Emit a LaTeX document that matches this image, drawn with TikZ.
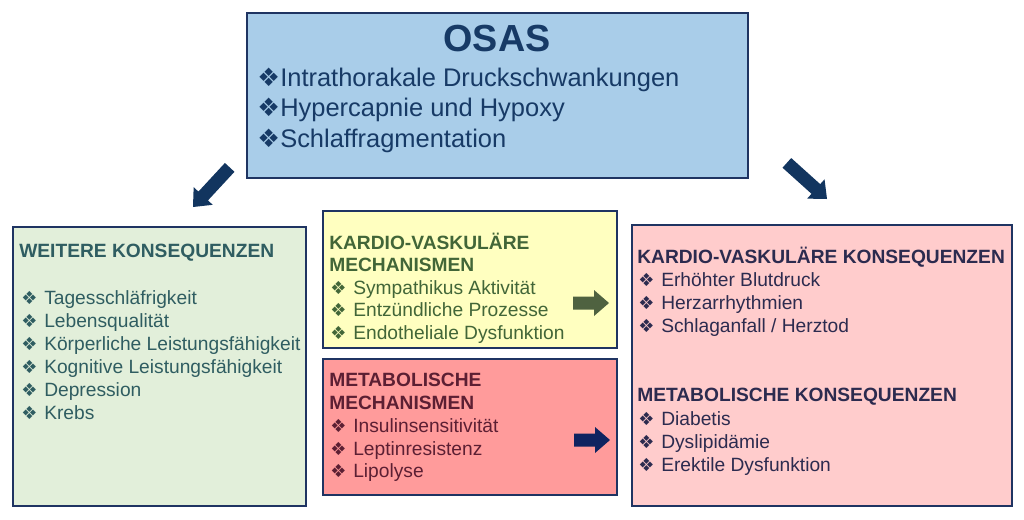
\documentclass[tikz,border=0pt]{standalone}
\usepackage{fontspec}
\setmainfont{Liberation Sans}
\newfontfamily\symfont{DejaVu Sans}
\usepackage{tikz}

\definecolor{osasfill}{HTML}{A9CDE9}
\definecolor{weiterefill}{HTML}{E2EFDA}
\definecolor{kardiofill}{HTML}{FFFFC0}
\definecolor{metafill}{HTML}{FF9B9B}
\definecolor{konseqfill}{HTML}{FFCCCC}
\definecolor{boxline}{HTML}{1F3462}
\definecolor{osastext}{HTML}{173A66}
\definecolor{weiteretext}{HTML}{2F5D61}
\definecolor{kardiotext}{HTML}{426638}
\definecolor{metatext}{HTML}{5C1F33}
\definecolor{konseqtext}{HTML}{2C2B4F}
\definecolor{navyarrow}{HTML}{12355F}
\definecolor{darknavy}{HTML}{0F2360}
\definecolor{greenarrow}{HTML}{4F6240}

\newcommand{\itm}[2][13.5pt]{\makebox[17.25pt][l]{\fontsize{#1}{#1}\symfont ❖}#2}
\newcommand{\blockarrow}[4]{%
	\begin{scope}[shift={(#1)}, rotate=#2]
		\fill[#4] (0,0) -- (-15,13) -- (-15,6.5) -- (-#3,6.5) -- (-#3,-6.5) -- (-15,-6.5) -- (-15,-13) -- cycle;
	\end{scope}}

\begin{document}
\begin{tikzpicture}[x=0.75pt, y=-0.75pt]
	\useasboundingbox (0,0) rectangle (1024,519);
	\begin{scope}[every node/.style={rectangle, draw=boxline, line width=1.5pt, inner sep=0pt}]
		\node[fill=osasfill, minimum width=376pt, minimum height=124pt] (osas) at (497.5,95.5) {};
		\node[fill=weiterefill, minimum width=220pt, minimum height=209pt] (weitere) at (159.5,366.3) {};
		\node[fill=kardiofill, minimum width=220pt, minimum height=102.5pt] (kardiomech) at (470,279.3) {};
		\node[fill=metafill, minimum width=220pt, minimum height=102pt] (metamech) at (470,427) {};
		\node[fill=konseqfill, minimum width=285pt, minimum height=210.75pt] (konseq) at (821.7,365.5) {};
	\end{scope}

	\blockarrow{193,207}{-132.8}{54}{navyarrow}
	\blockarrow{827,199}{-42}{54}{navyarrow}
	\blockarrow{609,303}{0}{36}{greenarrow}
	\blockarrow{610,440}{0}{36}{darknavy}

	\begin{scope}[every node/.style={anchor=base west, inner sep=0pt, font=\fontsize{19.1pt}{23pt}\selectfont, text=osastext}]
		\node[anchor=base, font=\fontsize{28.3pt}{34pt}\selectfont\bfseries] (osastitle) at (497,51.7) {OSAS};
		\node (druck) at (257,86) {\itm[19pt]{Intrathorakale Druckschwankungen}};
		\node (hyper) at (257,116.7) {\itm[19pt]{Hypercapnie und Hypoxy}};
		\node (schlaf) at (257,147.3) {\itm[19pt]{Schlaffragmentation}};
	\end{scope}

	\begin{scope}[every node/.style={anchor=base west, inner sep=0pt, font=\fontsize{14.4pt}{17pt}\selectfont}]
		\node[text=weiteretext, font=\fontsize{14.4pt}{17pt}\selectfont\bfseries] (weiterehead) at (19,257) {WEITERE KONSEQUENZEN};
		\node[text=weiteretext] (tages) at (21,304) {\itm{Tagesschläfrigkeit}};
		\node[text=weiteretext] (leben) at (21,327) {\itm{Lebensqualität}};
		\node[text=weiteretext] (koerper) at (21,350) {\itm{Körperliche Leistungsfähigkeit}};
		\node[text=weiteretext] (kognitiv) at (21,373) {\itm{Kognitive Leistungsfähigkeit}};
		\node[text=weiteretext] (depression) at (21,396) {\itm{Depression}};
		\node[text=weiteretext] (krebs) at (21,419) {\itm{Krebs}};

		\node[text=kardiotext, font=\fontsize{14.4pt}{17pt}\selectfont\bfseries] (kardiohead) at (329,249) {KARDIO-VASKULÄRE};
		\node[text=kardiotext, font=\fontsize{14.4pt}{17pt}\selectfont\bfseries] (kardiohead2) at (329,271) {MECHANISMEN};
		\node[text=kardiotext] (sympathikus) at (330,294) {\itm{Sympathikus Aktivität}};
		\node[text=kardiotext] (entzuendung) at (330,316) {\itm{Entzündliche Prozesse}};
		\node[text=kardiotext] (endothel) at (330,339) {\itm{Endotheliale Dysfunktion}};

		\node[text=metatext, font=\fontsize{14.4pt}{17pt}\selectfont\bfseries] (metahead) at (329,386) {METABOLISCHE};
		\node[text=metatext, font=\fontsize{14.4pt}{17pt}\selectfont\bfseries] (metahead2) at (329,409) {MECHANISMEN};
		\node[text=metatext] (insulin) at (330,432) {\itm{Insulinsensitivität}};
		\node[text=metatext] (leptin) at (330,455) {\itm{Leptinresistenz}};
		\node[text=metatext] (lipolyse) at (330,477) {\itm{Lipolyse}};

		\node[text=konseqtext, font=\fontsize{14.4pt}{17pt}\selectfont\bfseries] (kardiokons) at (637,263) {KARDIO-VASKULÄRE KONSEQUENZEN};
		\node[text=konseqtext] (blutdruck) at (638,286) {\itm{Erhöhter Blutdruck}};
		\node[text=konseqtext] (arrhythmie) at (638,309) {\itm{Herzarrhythmien}};
		\node[text=konseqtext] (schlaganfall) at (638,332.7) {\itm{Schlaganfall / Herztod}};
		\node[text=konseqtext, font=\fontsize{14.4pt}{17pt}\selectfont\bfseries] (metakons) at (637,401.7) {METABOLISCHE KONSEQUENZEN};
		\node[text=konseqtext] (diabetis) at (638,425) {\itm{Diabetis}};
		\node[text=konseqtext] (dyslipid) at (638,448) {\itm{Dyslipidämie}};
		\node[text=konseqtext] (erektil) at (638,471.7) {\itm{Erektile Dysfunktion}};
	\end{scope}
\end{tikzpicture}
\end{document}
